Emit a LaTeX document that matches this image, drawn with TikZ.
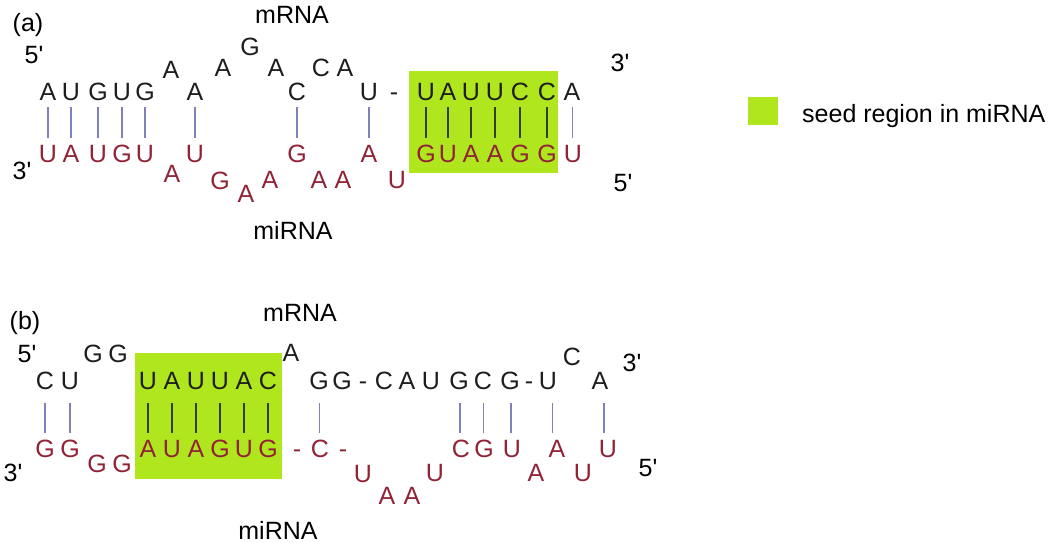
\documentclass[tikz,border=0pt]{standalone}
\usepackage{fontspec}
\setmainfont{Liberation Sans}
\usetikzlibrary{calc}
\definecolor{seedgreen}{RGB}{176,230,30}
\definecolor{mirnacol}{RGB}{145,35,55}
\definecolor{mrnacol}{RGB}{30,30,30}
\definecolor{bondcol}{RGB}{128,128,190}
\definecolor{seedbondcol}{RGB}{50,62,40}
\tikzset{
  nt/.style={inner sep=0pt, text height=18pt, text depth=0pt, font=\fontsize{25}{29}\selectfont},
  tp/.style={nt, text=mrnacol},
  bt/.style={nt, text=mirnacol},
  lab/.style={nt, text=black},
  bonda/.style={draw=bondcol, line width=1.6pt},
  seedbond/.style={draw=seedbondcol, line width=1.8pt},
  seedbox/.style={fill=seedgreen, draw=none},
}
\newcommand\bnd[5]{\draw[#1] let \p1=($(#2.center)!.5!(#3.center)$), \p2=(#2.center), \p3=(#3.center) in (\x1,\y2-#4) -- (\x1,\y3+#5);}
\newcommand\pr{\textquotesingle}
\begin{document}
\begin{tikzpicture}[x=1pt,y=-1pt]
\useasboundingbox (0,0) rectangle (1050,543);
% ---------------- panel (a) ----------------
\fill[seedbox] (409,71) rectangle (558,173);
\node[lab] (la) at (28,23) {(a)};
\node[lab] (mrnaA) at (292,15) {mRNA};
\node[lab] (fiveA) at (34,55) {5\pr};
\node[lab] (threeA) at (22,170) {3\pr};
\node[lab] (mirnaA) at (293,230) {miRNA};
\node[lab] (threeAr) at (620,62) {3\pr};
\node[lab] (fiveAr) at (623,182) {5\pr};
% top strand (mRNA)
\node[tp] (a1) at (48,91) {A};
\node[tp] (a2) at (71,91) {U};
\node[tp] (a3) at (98,91) {G};
\node[tp] (a4) at (122,91) {U};
\node[tp] (a5) at (145,91) {G};
\node[tp] (a6) at (171,69) {A};
\node[tp] (a7) at (195,91) {A};
\node[tp] (a8) at (223,68) {A};
\node[tp] (a9) at (250,47) {G};
\node[tp] (a10) at (276,68) {A};
\node[tp] (a11) at (297,91) {C};
\node[tp] (a12) at (321,68) {C};
\node[tp] (a13) at (345,68) {A};
\node[tp] (a14) at (369,91) {U};
\node[tp] (ad) at (394,91) {-};
\node[tp] (a15) at (426,91) {U};
\node[tp] (a16) at (448,91) {A};
\node[tp] (a17) at (471,91) {U};
\node[tp] (a18) at (495,91) {U};
\node[tp] (a19) at (520,91) {C};
\node[tp] (a20) at (547,91) {C};
\node[tp] (a21) at (572,91) {A};
% bottom strand (miRNA)
\node[bt] (b1) at (48,153) {U};
\node[bt] (b2) at (71,153) {A};
\node[bt] (b3) at (98,153) {U};
\node[bt] (b4) at (122,153) {G};
\node[bt] (b5) at (145,153) {U};
\node[bt] (b6) at (172,173) {A};
\node[bt] (b7) at (195,153) {U};
\node[bt] (b8) at (220,180) {G};
\node[bt] (b9) at (246,193) {A};
\node[bt] (b10) at (270,179) {A};
\node[bt] (b11) at (297,153) {G};
\node[bt] (b12) at (319,179) {A};
\node[bt] (b13) at (343,179) {A};
\node[bt] (b14) at (369,153) {A};
\node[bt] (b15) at (397,179) {U};
\node[bt] (b16) at (426,153) {G};
\node[bt] (b17) at (448,153) {U};
\node[bt] (b18) at (471,153) {A};
\node[bt] (b19) at (495,153) {A};
\node[bt] (b20) at (520,153) {G};
\node[bt] (b21) at (547,153) {G};
\node[bt] (b22) at (573,153) {U};
% bonds
\foreach \t/\b in {a1/b1,a2/b2,a3/b3,a4/b4,a5/b5,a7/b7,a11/b11,a14/b14,a21/b22}{\bnd{bonda}{\t}{\b}{16}{15}}
\foreach \t/\b in {a15/b16,a16/b17,a17/b18,a18/b19,a19/b20,a20/b21}{\bnd{seedbond}{\t}{\b}{16}{15}}
% legend
\fill[seedbox] (748,97) rectangle (778,125);
\node[lab, anchor=west] (legtext) at (802,113) {seed region in miRNA};
% ---------------- panel (b) ----------------
\fill[seedbox] (135,353) rectangle (282,479);
\node[lab] (lb) at (25,320) {(b)};
\node[lab] (mrnaB) at (300,312) {mRNA};
\node[lab] (fiveB) at (27,353) {5\pr};
\node[lab] (threeB) at (13,472) {3\pr};
\node[lab] (mirnaB) at (278,530) {miRNA};
\node[lab] (threeBr) at (632,362) {3\pr};
\node[lab] (fiveBr) at (648,467) {5\pr};
% top strand
\node[tp] (c1) at (45,380) {C};
\node[tp] (c2) at (70,380) {U};
\node[tp] (c3) at (93,353) {G};
\node[tp] (c4) at (118,353) {G};
\node[tp] (c5) at (148,380) {U};
\node[tp] (c6) at (172,380) {A};
\node[tp] (c7) at (196,380) {U};
\node[tp] (c8) at (220,380) {U};
\node[tp] (c9) at (244,380) {A};
\node[tp] (c10) at (268,380) {C};
\node[tp] (c11) at (291,352) {A};
\node[tp] (c12) at (319,380) {G};
\node[tp] (c13) at (342,380) {G};
\node[tp] (cd1) at (363,380) {-};
\node[tp] (c14) at (384,380) {C};
\node[tp] (c15) at (407,380) {A};
\node[tp] (c16) at (431,380) {U};
\node[tp] (c17) at (459,380) {G};
\node[tp] (c18) at (483,380) {C};
\node[tp] (c19) at (510,380) {G};
\node[tp] (cd2) at (529,380) {-};
\node[tp] (c20) at (548,380) {U};
\node[tp] (c21) at (572,356) {C};
\node[tp] (c22) at (600,380) {A};
% bottom strand
\node[bt] (d1) at (45,448) {G};
\node[bt] (d2) at (70,448) {G};
\node[bt] (d3) at (97,463) {G};
\node[bt] (d4) at (122,463) {G};
\node[bt] (d5) at (148,448) {A};
\node[bt] (d6) at (172,448) {U};
\node[bt] (d7) at (196,448) {A};
\node[bt] (d8) at (220,448) {G};
\node[bt] (d9) at (244,448) {U};
\node[bt] (d10) at (268,448) {G};
\node[bt] (dd1) at (297,448) {-};
\node[bt] (d11) at (320,448) {C};
\node[bt] (dd2) at (343,448) {-};
\node[bt] (d12) at (363,473) {U};
\node[bt] (d13) at (387,495) {A};
\node[bt] (d14) at (412,495) {A};
\node[bt] (d15) at (435,472) {U};
\node[bt] (d16) at (461,448) {C};
\node[bt] (d17) at (484,448) {G};
\node[bt] (d18) at (512,448) {U};
\node[bt] (d19) at (536,472) {A};
\node[bt] (d20) at (557,448) {A};
\node[bt] (d21) at (583,472) {U};
\node[bt] (d22) at (608,448) {U};
% bonds
\foreach \t/\b in {c1/d1,c2/d2,c12/d11,c17/d16,c18/d17,c19/d18,c20/d20,c22/d22}{\bnd{bonda}{\t}{\b}{23}{15}}
\foreach \t/\b in {c5/d5,c6/d6,c7/d7,c8/d8,c9/d9,c10/d10}{\bnd{seedbond}{\t}{\b}{23}{15}}
\end{tikzpicture}
\end{document}
